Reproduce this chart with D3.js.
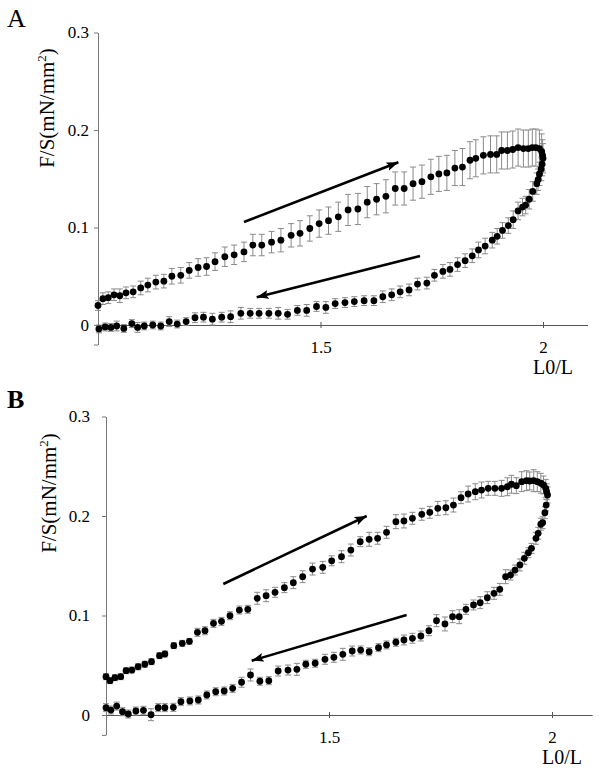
<!DOCTYPE html>
<html><head><meta charset="utf-8">
<script src="https://cdn.jsdelivr.net/npm/d3@7"></script>
<style>
body{margin:0;background:#fff}
text{font-family:"Liberation Serif","Times New Roman",serif;fill:#000}
</style></head>
<body><svg id="c" width="602" height="778"></svg>
<script>
// ---------- data ----------
const yTickValues=[-0.02,0,0.1,0.2,0.3];
const xTickValues=[1.5,2];
const xTickLabels=["1.5","2"];
const yTitle="F/S(mN/mm";
const xTitle="L0/L";

// Panel A – loading (upper branch)
const aLoadX=[1.0,1.011,1.023,1.036,1.049,1.063,1.079,1.096,1.112,1.130,1.148,1.166,1.186,1.205,1.225,1.244,1.263,1.285,1.306,1.328,1.348,1.368,1.390,1.411,1.434,1.454,1.476,1.497,1.518,1.540,1.562,1.584,1.605,1.626,1.647,1.668,1.688,1.708,1.728,1.748,1.766,1.784,1.802,1.819,1.836,1.849,1.866,1.882,1.896,1.907,1.920,1.932,1.944,1.956,1.967,1.976,1.984,1.992,1.997,1.999,2.0];
const aLoadY=[0.020,0.027,0.028,0.031,0.030,0.033,0.034,0.038,0.041,0.044,0.045,0.050,0.051,0.056,0.059,0.060,0.065,0.070,0.072,0.075,0.082,0.082,0.085,0.087,0.092,0.094,0.099,0.104,0.107,0.111,0.118,0.119,0.126,0.129,0.132,0.140,0.140,0.145,0.147,0.152,0.155,0.156,0.161,0.162,0.169,0.171,0.174,0.175,0.175,0.179,0.179,0.180,0.182,0.181,0.181,0.182,0.182,0.181,0.178,0.174,0.171];
const aLoadErr=[0.005,0.006,0.006,0.006,0.007,0.006,0.006,0.007,0.007,0.007,0.007,0.008,0.008,0.008,0.009,0.009,0.009,0.010,0.010,0.010,0.011,0.011,0.011,0.012,0.012,0.013,0.013,0.014,0.014,0.015,0.016,0.016,0.016,0.016,0.017,0.017,0.017,0.017,0.017,0.018,0.018,0.018,0.018,0.019,0.019,0.019,0.019,0.019,0.019,0.019,0.019,0.019,0.019,0.019,0.019,0.019,0.019,0.019,0.018,0.016,0.015];
// Panel A – unloading (lower branch)
const aUnloadX=[1.998,1.996,1.992,1.989,1.986,1.977,1.969,1.961,1.954,1.944,1.933,1.922,1.909,1.897,1.886,1.870,1.855,1.841,1.825,1.808,1.791,1.775,1.756,1.739,1.718,1.699,1.679,1.660,1.640,1.620,1.598,1.576,1.555,1.533,1.512,1.491,1.469,1.448,1.426,1.405,1.384,1.362,1.342,1.321,1.298,1.278,1.257,1.237,1.218,1.198,1.178,1.160,1.141,1.123,1.104,1.089,1.076,1.058,1.042,1.029,1.016,1.002];
const aUnloadY=[0.165,0.160,0.155,0.149,0.145,0.137,0.129,0.123,0.121,0.117,0.108,0.102,0.097,0.091,0.087,0.081,0.077,0.071,0.066,0.062,0.057,0.055,0.051,0.043,0.042,0.036,0.034,0.031,0.029,0.025,0.025,0.024,0.023,0.022,0.018,0.019,0.015,0.015,0.011,0.012,0.012,0.012,0.012,0.012,0.0085,0.008,0.006,0.008,0.0075,0.0035,0.001,0.0035,-0.001,0.0,-0.001,-0.0025,0.0015,-0.0035,-0.001,-0.0025,-0.002,-0.004];
const aUnloadErr=[0.012,0.012,0.012,0.011,0.011,0.010,0.010,0.009,0.009,0.009,0.009,0.008,0.008,0.008,0.008,0.008,0.008,0.007,0.007,0.007,0.007,0.007,0.006,0.006,0.006,0.006,0.006,0.006,0.006,0.005,0.005,0.005,0.005,0.005,0.006,0.005,0.006,0.005,0.005,0.006,0.005,0.005,0.005,0.006,0.006,0.005,0.006,0.005,0.005,0.004,0.004,0.005,0.004,0.004,0.004,0.005,0.004,0.004,0.005,0.004,0.004,0.004];

// Panel B – loading
const bLoadX=[1.0,1.009,1.020,1.033,1.045,1.058,1.072,1.087,1.102,1.120,1.132,1.152,1.171,1.187,1.205,1.222,1.241,1.259,1.278,1.299,1.318,1.339,1.359,1.379,1.400,1.420,1.441,1.463,1.486,1.506,1.528,1.549,1.570,1.590,1.609,1.629,1.650,1.668,1.687,1.708,1.726,1.744,1.762,1.779,1.796,1.812,1.828,1.842,1.857,1.872,1.887,1.900,1.909,1.920,1.932,1.943,1.950,1.959,1.967,1.975,1.981,1.986,1.988,1.990];
const bLoadY=[0.0385,0.0345,0.0375,0.0385,0.0445,0.0452,0.0485,0.051,0.0536,0.0596,0.0613,0.0697,0.072,0.074,0.0831,0.0847,0.0921,0.0941,0.0998,0.1055,0.1062,0.1173,0.1199,0.1233,0.128,0.133,0.139,0.1467,0.1484,0.155,0.1591,0.1658,0.1742,0.1766,0.1776,0.1836,0.1943,0.195,0.1977,0.2017,0.2037,0.2077,0.2083,0.211,0.2184,0.2221,0.2244,0.2261,0.2278,0.2278,0.2278,0.2294,0.2319,0.2305,0.2345,0.2355,0.2352,0.2355,0.2345,0.2329,0.2312,0.2278,0.2244,0.2211];
const bLoadErr=[0.003,0.003,0.003,0.003,0.003,0.003,0.003,0.003,0.003,0.003,0.003,0.003,0.003,0.003,0.004,0.004,0.004,0.004,0.004,0.004,0.004,0.006,0.006,0.005,0.005,0.006,0.006,0.006,0.006,0.005,0.006,0.006,0.005,0.007,0.006,0.006,0.007,0.007,0.006,0.006,0.006,0.007,0.007,0.007,0.006,0.008,0.008,0.008,0.007,0.007,0.008,0.009,0.009,0.008,0.010,0.010,0.009,0.011,0.010,0.010,0.009,0.009,0.008,0.008];
// Panel B – unloading
const bUnloadX=[1.987,1.984,1.979,1.975,1.969,1.964,1.954,1.947,1.938,1.928,1.917,1.907,1.896,1.883,1.870,1.855,1.839,1.824,1.807,1.792,1.777,1.760,1.741,1.724,1.706,1.687,1.668,1.650,1.629,1.611,1.590,1.571,1.552,1.531,1.511,1.491,1.469,1.448,1.428,1.408,1.386,1.365,1.345,1.324,1.304,1.284,1.265,1.246,1.226,1.207,1.188,1.168,1.151,1.132,1.117,1.101,1.084,1.067,1.050,1.037,1.024,1.011,1.0];
const bUnloadY=[0.211,0.2033,0.1933,0.1917,0.1826,0.1776,0.1675,0.1631,0.1575,0.1508,0.1457,0.1407,0.139,0.1263,0.1223,0.1179,0.1129,0.1106,0.1062,0.0988,0.0988,0.0915,0.0948,0.0847,0.0794,0.0771,0.0754,0.0731,0.0704,0.0677,0.0636,0.0653,0.0643,0.061,0.058,0.056,0.052,0.051,0.0459,0.0452,0.0442,0.0345,0.0339,0.0402,0.0329,0.0268,0.0241,0.0234,0.0201,0.0151,0.0141,0.0134,0.0077,0.0074,0.0074,0.0003,0.0047,0.004,0.001,0.0033,0.009,0.005,0.0074];
const bUnloadErr=[0.006,0.006,0.006,0.006,0.006,0.006,0.005,0.005,0.006,0.006,0.005,0.005,0.007,0.006,0.006,0.006,0.006,0.005,0.005,0.007,0.006,0.007,0.006,0.005,0.005,0.005,0.005,0.004,0.004,0.004,0.004,0.004,0.005,0.006,0.005,0.005,0.004,0.004,0.006,0.005,0.005,0.004,0.004,0.006,0.005,0.004,0.004,0.004,0.004,0.004,0.004,0.004,0.004,0.004,0.004,0.006,0.004,0.004,0.004,0.004,0.004,0.004,0.004];

// arrows (data units): [x1,y1,x2,y2], head at (x2,y2)
const aArrows=[[1.328,0.1056,1.675,0.1669],[1.7236,0.0708,1.3566,0.0284]];
const bArrows=[[1.263,0.1317,1.5845,0.200],[1.674,0.1005,1.3267,0.0546]];

// ---------- layout ----------
const panels=[
 {label:"A",bold:false,labelSize:26,labelPos:[7,27],
  xDom:[1,2.1],xRange:[98,98+445*1.1],yDom:[-0.02,0.3],yRange:[325+0.02*975,325-0.3*975],
  titlePos:[54,108],yLabPad:5,
  loadX:aLoadX,loadY:aLoadY,loadErr:aLoadErr,unX:aUnloadX,unY:aUnloadY,unErr:aUnloadErr,arrows:aArrows},
 {label:"B",bold:true,labelSize:26,labelPos:[7,408],
  xDom:[1,2.09],xRange:[106,106+446*1.09],yDom:[-0.02,0.3],yRange:[715+0.02*995,715-0.3*995],
  titlePos:[56,493],yLabPad:12,
  loadX:bLoadX,loadY:bLoadY,loadErr:bLoadErr,unX:bUnloadX,unY:bUnloadY,unErr:bUnloadErr,arrows:bArrows}
];

const svg=d3.select("#c");
svg.append("defs").append("marker").attr("id","ah")
  .attr("markerUnits","userSpaceOnUse").attr("markerWidth",14).attr("markerHeight",10)
  .attr("refX",12).attr("refY",5).attr("orient","auto")
  .append("path").attr("d","M0,0.5 L12,5 L0,9.5 L2.5,5 Z").attr("fill","#000");

panels.forEach(p=>{
  const g=svg.append("g");
  const x=d3.scaleLinear().domain(p.xDom).range(p.xRange);
  const y=d3.scaleLinear().domain(p.yDom).range(p.yRange);

  // panel letter
  g.append("text").attr("x",p.labelPos[0]).attr("y",p.labelPos[1])
    .attr("font-size",p.labelSize).attr("font-weight",p.bold?"bold":"normal").text(p.label);

  // y axis
  const ya=g.append("g").attr("transform",`translate(${x(1)},0)`)
    .call(d3.axisLeft(y).tickValues(yTickValues)
      .tickFormat(d=>d<0?"":(d===0?"0":d3.format(".1f")(d)))
      .tickSize(4).tickSizeOuter(0).tickPadding(p.yLabPad));
  ya.select(".domain").attr("stroke","#777");
  ya.selectAll(".tick line").attr("stroke","#777");
  ya.selectAll("text").attr("font-size",17).attr("font-family",null);

  // x axis
  const xa=g.append("g").attr("transform",`translate(0,${y(0)})`)
    .call(d3.axisBottom(x).tickValues(xTickValues).tickFormat((d,i)=>xTickLabels[i])
      .tickSize(3).tickSizeOuter(0));
  xa.select(".domain").attr("stroke","#555");
  xa.selectAll(".tick line").attr("stroke","#555").attr("y1",-3);
  xa.selectAll("text").attr("font-size",17).attr("font-family",null).attr("y",16);

  // axis titles
  const t=g.append("text").attr("transform",`translate(${p.titlePos[0]},${p.titlePos[1]}) rotate(-90)`)
    .attr("text-anchor","middle").attr("font-size",21);
  t.append("tspan").text(yTitle);
  t.append("tspan").attr("font-size",13).attr("dy",-8).text("2");
  t.append("tspan").attr("dy",8).text(")");
  g.append("text").attr("x",x(2)-10).attr("y",y(0)+49).attr("font-size",20).text(xTitle);

  // series
  const series=[
    p.loadX.map((v,i)=>({x:v,y:p.loadY[i],e:p.loadErr[i]})),
    p.unX.map((v,i)=>({x:v,y:p.unY[i],e:p.unErr[i]}))
  ];
  series.forEach(s=>{
    const eb=g.append("g").attr("stroke","#8a8a8a").attr("stroke-width",1).attr("fill","none");
    s.forEach(d=>{
      const cx=x(d.x), yt=y(d.y+d.e), yb=y(d.y-d.e);
      eb.append("line").attr("x1",cx).attr("x2",cx).attr("y1",yt).attr("y2",yb);
      eb.append("line").attr("x1",cx-3).attr("x2",cx+3).attr("y1",yt).attr("y2",yt);
      eb.append("line").attr("x1",cx-3).attr("x2",cx+3).attr("y1",yb).attr("y2",yb);
    });
  });
  series.forEach(s=>{
    g.append("g").selectAll("circle").data(s).join("circle")
      .attr("cx",d=>x(d.x)).attr("cy",d=>y(d.y)).attr("r",3.4).attr("fill","#000");
  });

  // arrows
  g.append("g").selectAll("line").data(p.arrows).join("line")
    .attr("x1",d=>x(d[0])).attr("y1",d=>y(d[1])).attr("x2",d=>x(d[2])).attr("y2",d=>y(d[3]))
    .attr("stroke","#000").attr("stroke-width",2.6).attr("marker-end","url(#ah)");
});
</script></body></html>
